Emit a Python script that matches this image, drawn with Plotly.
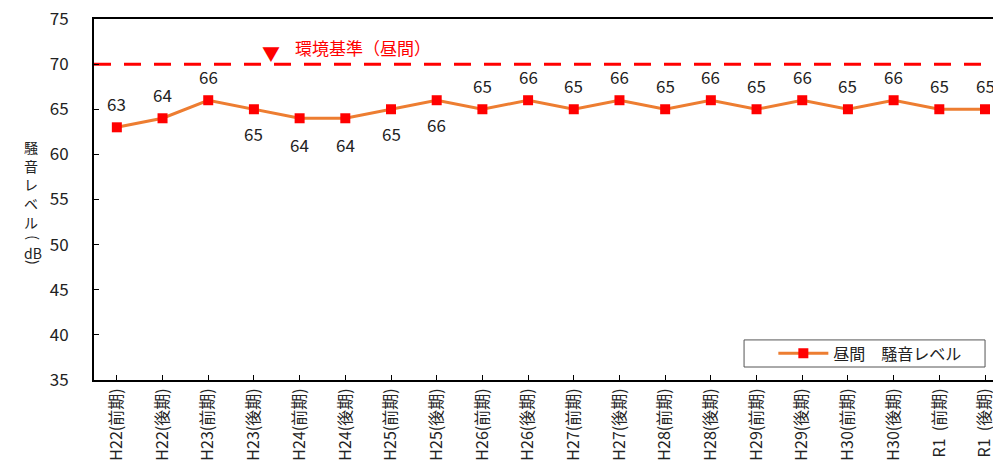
import plotly.graph_objects as go

categories = [
    "H22(前期)", "H22(後期)", "H23(前期)", "H23(後期)",
    "H24(前期)", "H24(後期)", "H25(前期)", "H25(後期)",
    "H26(前期)", "H26(後期)", "H27(前期)", "H27(後期)",
    "H28(前期)", "H28(後期)", "H29(前期)", "H29(後期)",
    "H30(前期)", "H30(後期)", "R1  (前期)", "R1  (後期)",
]
noise_day = [63, 64, 66, 65, 64, 64, 65, 66, 65, 66,
             65, 66, 65, 66, 65, 66, 65, 66, 65, 65]
# label above (1) or below (-1) the point
label_side = [1, 1, 1, -1, -1, -1, -1, -1, 1, 1,
              1, 1, 1, 1, 1, 1, 1, 1, 1, 1]
standard_day = 70
y_ticks = [35, 40, 45, 50, 55, 60, 65, 70, 75]

FONT = "Liberation Sans Narrow, Arial Narrow, Noto Sans CJK JP, sans-serif"
JP = "Noto Sans CJK JP, sans-serif"
idx = list(range(len(categories)))

fig = go.Figure()

# environmental standard line
fig.add_trace(go.Scatter(
    x=[-0.5, len(categories) - 0.5], y=[standard_day, standard_day],
    mode="lines", line=dict(color="#FF0000", width=3, dash="17px,13px"),
    showlegend=False, hoverinfo="skip",
))

fig.add_trace(go.Scatter(
    x=idx, y=noise_day, mode="lines+markers",
    name="昼間　騒音レベル",
    line=dict(color="#ED7D31", width=3),
    marker=dict(symbol="square", size=10, color="#FF0000"),
))

for i, v in enumerate(noise_day):
    fig.add_annotation(
        x=i, y=v, text=str(v), showarrow=False,
        yshift=24 * label_side[i] + (-2 if label_side[i] < 0 and v == 64 else 0),
        font=dict(family=FONT, size=17, color="#222222"),
    )

fig.add_annotation(
    x=3.37, y=standard_day, text="▼", showarrow=False, yshift=11,
    font=dict(family=JP, size=18, color="#FF0000"),
)
fig.add_annotation(
    x=3.85, y=standard_day, text="環境基準（昼間）", showarrow=False,
    xanchor="left", yshift=17,
    font=dict(family=JP, size=17, color="#FF0000"),
)

# vertical y-axis title, one glyph at a time
title_parts = ["騒", "音", "レ", "ベ", "ル", "(", "dB", ")"]
title_y = [0.646, 0.594, 0.542, 0.490, 0.438, 0.393, 0.352, 0.312]
title_rot = [0, 0, 0, 0, 0, 90, 0, 90]
for t, yy, rot in zip(title_parts, title_y, title_rot):
    fig.add_annotation(
        xref="paper", yref="paper", x=-0.0794, y=yy, text=t,
        showarrow=False, textangle=rot,
        font=dict(family=JP, size=14, color="#222222"),
    )

# legend frame
fig.add_shape(
    type="rect", xref="paper", yref="paper",
    x0=0.7167, x1=0.9824, y0=0.036, y1=0.111,
    line=dict(color="#555555", width=1), fillcolor="white", layer="below",
)

fig.update_layout(
    width=993, height=465,
    margin=dict(l=86, r=0, t=11, b=93),
    paper_bgcolor="white", plot_bgcolor="white",
    font=dict(family=FONT, size=16, color="#222222"),
    showlegend=True,
    legend=dict(
        x=0.749, y=0.0735, xanchor="left", yanchor="middle",
        borderwidth=0, bgcolor="rgba(0,0,0,0)",
        font=dict(family=JP, size=16, color="#222222"),
        itemwidth=50,
    ),
    xaxis=dict(
        range=[-0.5, 19.35], tickmode="array", tickvals=idx, ticktext=categories,
        tickson="boundaries", ticks="inside", ticklen=5, tickcolor="black",
        tickangle=-90, showline=True, linecolor="black", linewidth=2,
        mirror=True, showgrid=False, zeroline=False, automargin=False,
        tickfont=dict(family=FONT, size=16, color="#222222"),
        ticklabeloverflow="allow",
    ),
    yaxis=dict(
        range=[35, 75], tickvals=y_ticks, ticks="inside", ticklen=5,
        tickcolor="black", showline=True, linecolor="black", linewidth=2,
        showgrid=False, zeroline=False, automargin=False,
        ticklabelstandoff=20, ticklabeloverflow="allow",
        tickfont=dict(family=FONT, size=17, color="#222222"),
    ),
)

fig.write_html("out.html")
